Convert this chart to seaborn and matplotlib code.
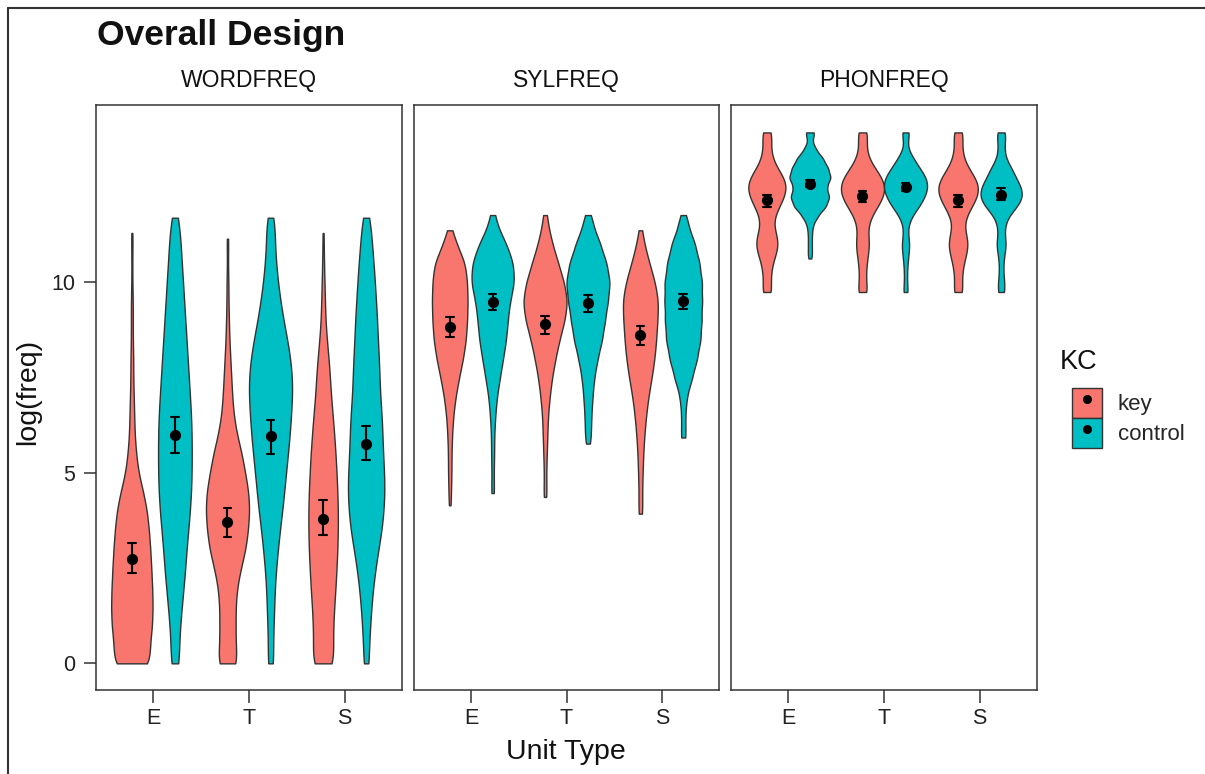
import numpy as np
import pandas as pd
import matplotlib
matplotlib.use("Agg")
import matplotlib.pyplot as plt
import seaborn as sns
from matplotlib.patches import Patch
from matplotlib.lines import Line2D

# ---------------- data ----------------
facets = ["WORDFREQ", "SYLFREQ", "PHONFREQ"]
units = ["E", "T", "S"]
kc_levels = ["key", "control"]
kc_colors = ["#F8766D", "#00BFC4"]

# WORDFREQ: relative frequency of observations on a 0.5 grid
word_levels = [0.0, 0.5, 1.0, 1.5, 2.0, 2.5, 3.0, 3.5, 4.0, 4.5, 5.0, 5.5,
               6.0, 6.5, 7.0, 7.5, 8.0, 8.5, 9.0, 9.5, 10.0, 10.5, 11.0, 11.5]
word_key_E = [38, 38, 43, 44, 43, 41, 39, 36, 32, 24, 14, 9, 6, 5, 4, 3, 3, 2, 2, 2, 1, 1, 1, 0]
word_key_T = [20, 17, 17, 17, 20, 28, 38, 43, 46, 44, 37, 30, 20, 13, 10, 8, 6, 4, 3, 2, 2, 1, 1, 0]
word_key_S = [24, 21, 22, 24, 27, 29, 31, 32, 32, 31, 29, 27, 24, 21, 17, 15, 12, 8, 5, 4, 3, 2, 1, 0]
word_control_E = [7, 7, 9, 12, 15, 18, 20, 23, 26, 28, 29, 29, 29, 28, 26, 24, 22, 20, 18, 16, 14, 12, 10, 8]
word_control_T = [4, 4, 5, 6, 7, 9, 12, 15, 19, 22, 25, 28, 31, 33, 35, 35, 32, 27, 21, 16, 12, 9, 7, 7]
word_control_S = [4, 5, 7, 9, 12, 16, 21, 27, 30, 32, 31, 29, 28, 27, 24, 23, 22, 20, 19, 17, 15, 13, 10, 8]
word_key_lo = [0.0, 0.0, 0.0]
word_key_hi = [11.3, 11.15, 11.3]
word_control_lo = [0.0, 0.0, 0.0]
word_control_hi = [11.7, 11.7, 11.7]

# SYLFREQ
syl_levels = [4.0, 4.5, 5.0, 5.5, 6.0, 6.5, 7.0, 7.5, 8.0, 8.5, 9.0, 9.5, 10.0, 10.5, 11.0, 11.5]
syl_key_E = [0, 2, 3, 3, 4, 6, 10, 16, 23, 28, 30, 31, 30, 27, 12, 0]
syl_key_T = [0, 2, 2, 3, 4, 5, 8, 12, 18, 25, 34, 39, 33, 23, 13, 5]
syl_key_S = [3, 3, 4, 5, 7, 10, 14, 20, 25, 28, 30, 32, 26, 16, 7, 0]
syl_control_E = [0, 2, 2, 3, 3, 5, 8, 14, 20, 26, 29, 33, 42, 40, 27, 8]
syl_control_T = [0, 0, 0, 0, 5, 6, 8, 11, 17, 25, 30, 35, 39, 33, 22, 9]
syl_control_S = [0, 0, 0, 0, 4, 4, 7, 18, 28, 35, 37, 38, 38, 33, 24, 10]
syl_key_lo = [4.15, 4.37, 3.93]
syl_key_hi = [11.37, 11.77, 11.37]
syl_control_lo = [4.47, 5.77, 5.93]
syl_control_hi = [11.77, 11.77, 11.77]

# PHONFREQ
phon_levels = [9.75, 10.0, 10.25, 10.5, 10.75, 11.0, 11.25, 11.5, 11.75,
               12.0, 12.25, 12.5, 12.75, 13.0, 13.25, 13.5, 13.75, 13.94]
phon_key_E = [7, 5, 6, 8, 13, 17, 14, 9, 11, 18, 25, 29, 25, 15, 8, 6, 5, 6]
phon_key_T = [7, 5, 5, 6, 8, 10, 8, 8, 13, 22, 30, 33, 28, 18, 9, 6, 5, 6]
phon_key_S = [7, 5, 6, 8, 12, 15, 12, 8, 12, 20, 28, 31, 25, 15, 8, 6, 5, 6]
phon_control_E = [0, 0, 0, 0, 4, 4, 4, 6, 16, 33, 40, 33, 43, 37, 27, 12, 3, 8]
phon_control_T = [4, 3, 3, 4, 6, 8, 5, 5, 13, 27, 38, 44, 41, 28, 16, 5, 3, 7]
phon_control_S = [6, 6, 4, 4, 6, 10, 6, 7, 13, 31, 41, 38, 27, 20, 8, 6, 6, 7]
phon_key_lo = [9.75, 9.75, 9.75]
phon_key_hi = [13.94, 13.94, 13.94]
phon_control_lo = [10.63, 9.75, 9.75]
phon_control_hi = [13.94, 13.94, 13.94]

# means with error bars
word_key_mean = [2.73, 3.71, 3.80]
word_key_low = [2.36, 3.32, 3.36]
word_key_high = [3.15, 4.09, 4.28]
word_control_mean = [6.00, 5.96, 5.77]
word_control_low = [5.52, 5.49, 5.35]
word_control_high = [6.48, 6.38, 6.22]
syl_key_mean = [8.83, 8.90, 8.61]
syl_key_low = [8.57, 8.65, 8.35]
syl_key_high = [9.09, 9.13, 8.87]
syl_control_mean = [9.48, 9.46, 9.51]
syl_control_low = [9.27, 9.22, 9.31]
syl_control_high = [9.70, 9.66, 9.70]
phon_key_mean = [12.17, 12.26, 12.17]
phon_key_low = [11.99, 12.11, 11.99]
phon_key_high = [12.31, 12.40, 12.31]
phon_control_mean = [12.59, 12.50, 12.31]
phon_control_low = [12.50, 12.40, 12.17]
phon_control_high = [12.68, 12.61, 12.48]

# ---------------- build tables ----------------
dist_spec = {
    "WORDFREQ": (word_levels,
                 {"key": [word_key_E, word_key_T, word_key_S],
                  "control": [word_control_E, word_control_T, word_control_S]},
                 {"key": (word_key_lo, word_key_hi), "control": (word_control_lo, word_control_hi)}),
    "SYLFREQ": (syl_levels,
                {"key": [syl_key_E, syl_key_T, syl_key_S],
                 "control": [syl_control_E, syl_control_T, syl_control_S]},
                {"key": (syl_key_lo, syl_key_hi), "control": (syl_control_lo, syl_control_hi)}),
    "PHONFREQ": (phon_levels,
                 {"key": [phon_key_E, phon_key_T, phon_key_S],
                  "control": [phon_control_E, phon_control_T, phon_control_S]},
                 {"key": (phon_key_lo, phon_key_hi), "control": (phon_control_lo, phon_control_hi)}),
}
summary_spec = {
    "WORDFREQ": {"key": (word_key_low, word_key_mean, word_key_high),
                 "control": (word_control_low, word_control_mean, word_control_high)},
    "SYLFREQ": {"key": (syl_key_low, syl_key_mean, syl_key_high),
                "control": (syl_control_low, syl_control_mean, syl_control_high)},
    "PHONFREQ": {"key": (phon_key_low, phon_key_mean, phon_key_high),
                 "control": (phon_control_low, phon_control_mean, phon_control_high)},
}

rows = []
for f in facets:
    levels, counts, ranges = dist_spec[f]
    for kc in kc_levels:
        lo_list, hi_list = ranges[kc]
        for i, u in enumerate(units):
            vals = list(np.repeat(levels, counts[kc][i])) + [lo_list[i], hi_list[i]]
            rows += [(f, u, kc, v) for v in vals]
obs = pd.DataFrame(rows, columns=["facet", "unit", "KC", "value"])

srows = []
for f in facets:
    for kc in kc_levels:
        low, mean, high = summary_spec[f][kc]
        for i, u in enumerate(units):
            for v in (low[i], mean[i], high[i]):
                srows.append((f, u, kc, v))
summ = pd.DataFrame(srows, columns=["facet", "unit", "KC", "value"])

# ---------------- plot ----------------
sns.set_theme(style="white")
plt.rcParams["font.family"] = ["Liberation Sans", "DejaVu Sans"]

W, H = 1205, 774
fig = plt.figure(figsize=(W / 100, H / 100), dpi=100)

panel_px = [(96, 402), (414, 719), (731, 1037)]
top_px, bot_px = 105, 690
bw = {"WORDFREQ": 0.15, "SYLFREQ": 0.21, "PHONFREQ": 0.2}
edge = "#333333"

for k, f in enumerate(facets):
    x0, x1 = panel_px[k]
    ax = fig.add_axes([x0 / W, 1 - bot_px / H, (x1 - x0) / W, (bot_px - top_px) / H])
    sub = obs[obs["facet"] == f]
    sns.violinplot(data=sub, x="unit", y="value", hue="KC", order=units,
                   hue_order=kc_levels, palette=kc_colors, saturation=1,
                   cut=0, inner=None, density_norm="area", width=0.9,
                   bw_method=bw[f], linewidth=1.0, linecolor=edge,
                   legend=False, ax=ax)
    ssub = summ[summ["facet"] == f]
    sns.pointplot(data=ssub, x="unit", y="value", hue="KC", order=units,
                  hue_order=kc_levels, palette=["black", "black"],
                  estimator="median", errorbar=("pi", 100), dodge=0.45,
                  linestyle="none", markers="o", markersize=6,
                  capsize=0.08, err_kws={"linewidth": 1.5},
                  legend=False, ax=ax)
    ax.set_xlim(-0.6, 2.6)
    ax.set_ylim(-0.70, 14.66)
    ax.set_xlabel("")
    ax.set_ylabel("")
    ax.set_title(f, fontsize=16.5, pad=13, color="#111111")
    for s in ax.spines.values():
        s.set_visible(True)
        s.set_color(edge)
        s.set_linewidth(1.1)
    ax.tick_params(axis="x", length=9, width=1.1, color=edge,
                   labelsize=15.5, labelcolor="#222222", pad=4, bottom=True)
    ax.set_yticks([0, 5, 10])
    if k == 0:
        ax.tick_params(axis="y", length=9, width=1.1, color=edge,
                       labelsize=15.5, labelcolor="#222222", pad=6, left=True)
    else:
        ax.tick_params(axis="y", left=False, labelleft=False)
    ax.grid(False)

fig.text(97 / W, 1 - 45 / H, "Overall Design", fontsize=25.5, fontweight="bold",
         ha="left", va="baseline", color="#111111")
fig.text(566 / W, 1 - 759 / H, "Unit Type", fontsize=20.5, ha="center",
         va="baseline", color="#111111")
fig.text(28 / W, 1 - 392 / H, "log(freq)", fontsize=20.5, rotation=90,
         ha="center", va="center", color="#111111")
fig.text(1060 / W, 1 - 362 / H, "KC", fontsize=19.5, ha="left", va="center",
         color="#111111")

handles = [(Patch(facecolor=c, edgecolor=edge, linewidth=1.0),
            Line2D([], [], marker="o", color="black", linestyle="none", markersize=5.5))
           for c in kc_colors]
fig.legend(handles, kc_levels, loc="upper left",
           bbox_to_anchor=(1072 / W, 1 - 388 / H), frameon=False,
           fontsize=16, handlelength=1.35, handleheight=1.70,
           labelspacing=0.0, handletextpad=0.7, borderpad=0, borderaxespad=0)

# outer frame (top and left edges)
fig.add_artist(Line2D([8 / W, 1.0], [1 - 8 / H, 1 - 8 / H], transform=fig.transFigure,
                      color=edge, linewidth=1.5))
fig.add_artist(Line2D([8 / W, 8 / W], [0.0, 1 - 8 / H], transform=fig.transFigure,
                      color=edge, linewidth=1.5))

fig.savefig("out.png", dpi=100, facecolor="white")
